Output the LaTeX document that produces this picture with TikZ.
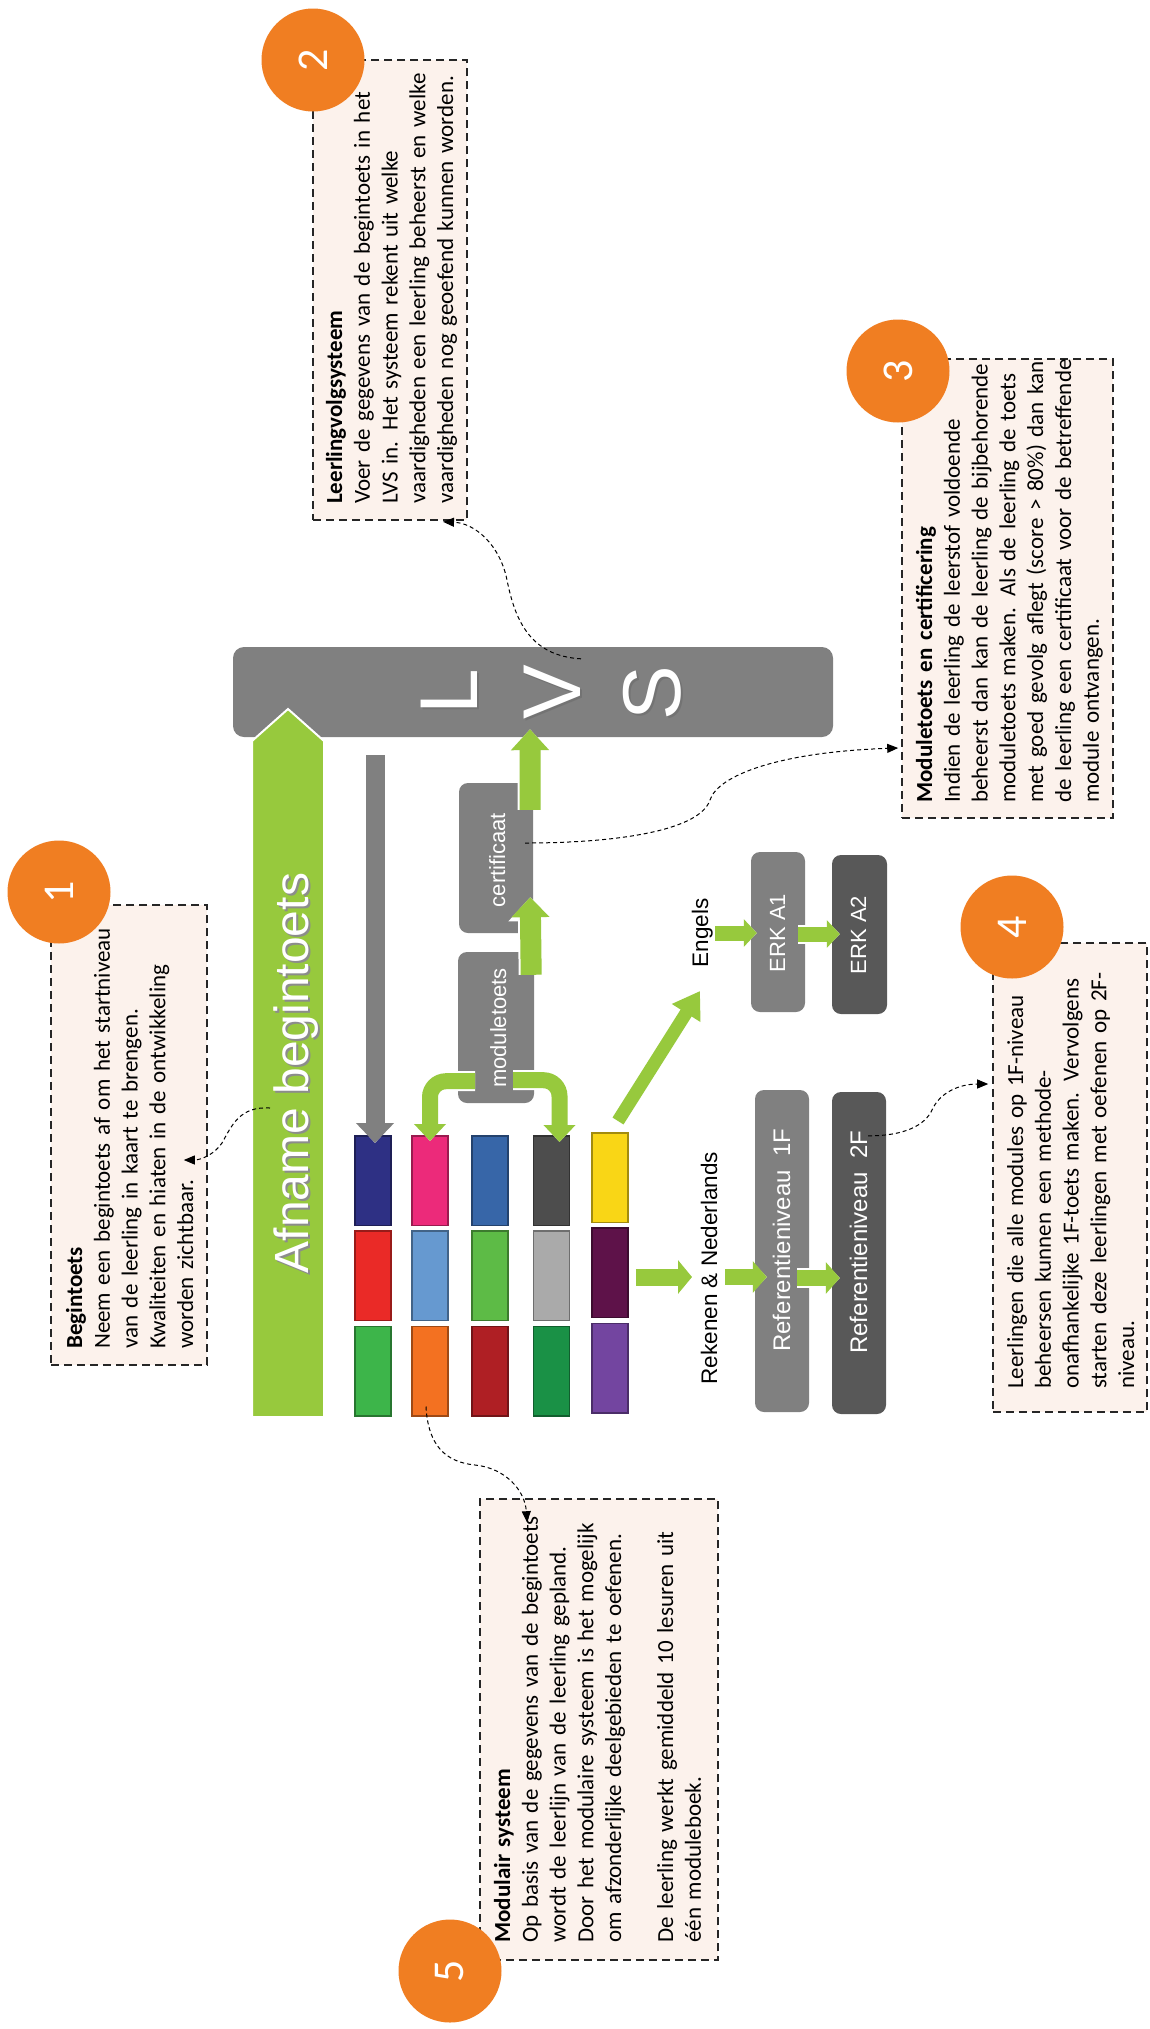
\documentclass[tikz,border=0pt]{standalone}
\usepackage{fontspec}
\setmainfont{Carlito}
\newfontfamily\labfont{Liberation Sans}
\usetikzlibrary{arrows.meta,calc}
\definecolor{gr}{HTML}{97C93D}
\definecolor{org}{HTML}{F07E22}
\definecolor{peach}{HTML}{FCF2EC}
\definecolor{gA}{HTML}{808080}
\definecolor{gB}{HTML}{585858}
\definecolor{k11}{HTML}{2E3084}
\definecolor{k12}{HTML}{EA2A27}
\definecolor{k13}{HTML}{3DB54A}
\definecolor{k21}{HTML}{EC2A7A}
\definecolor{k22}{HTML}{6699D0}
\definecolor{k23}{HTML}{F37121}
\definecolor{k31}{HTML}{3766A8}
\definecolor{k32}{HTML}{5DBB46}
\definecolor{k33}{HTML}{AF1F24}
\definecolor{k41}{HTML}{4D4D4D}
\definecolor{k42}{HTML}{AAAAAA}
\definecolor{k43}{HTML}{1A9146}
\definecolor{k51}{HTML}{F9D616}
\definecolor{k52}{HTML}{5E1249}
\definecolor{k53}{HTML}{7345A0}
\newcommand\GA[5]{%
  \pgfmathsetmacro\gaw{#1+4}\pgfmathsetmacro\gahw{#2+6}\pgfmathsetmacro\gahl{#3+4}%
  \draw[white, line width=\gaw pt, -{Triangle[width=\gahw pt, length=\gahl pt]}] #5;
  \draw[#4, line width=#1pt, -{Triangle[width=#2pt, length=#3pt]}] #5;}
\begin{document}
\begin{tikzpicture}[x=1pt,y=-1pt,
  callout/.style={draw=black!85, fill=peach, line width=1.6pt, dash pattern=on 8pt off 5pt, inner sep=0pt},
  ctext/.style={rotate=90, anchor=base west, text width=470pt, align=left, inner sep=0pt, font=\fontsize{23}{27.8}\selectfont},
  numc/.style={circle, fill=org, minimum size=103pt, inner sep=0pt, text=white, font=\fontsize{44}{44}\selectfont, rotate=90},
  gbox/.style={fill=gA, rounded corners=9pt, inner sep=0pt},
  dbox/.style={fill=gB, rounded corners=9pt, inner sep=0pt},
  wlab/.style={rotate=90, anchor=base, text=white, inner sep=0pt},
  blab/.style={rotate=90, anchor=base, text=black, inner sep=0pt, font=\labfont\fontsize{22.5}{24}\selectfont},
  blk/.style={fill=#1, draw=#1!65!black, line width=1.5pt, minimum width=36pt, minimum height=89.5pt, inner sep=0pt},
  dcon/.style={black, line width=1pt, dash pattern=on 4pt off 3pt, -{Triangle[length=11pt,width=9pt]}}
]
\useasboundingbox (0,0) rectangle (1149,2029);
\fill[white] (0,0) rectangle (1149,2029);

% ---------- callout boxes ----------
\node[callout, minimum width=156pt, minimum height=460pt] (c1) at (129,1135) {};
\node[callout, minimum width=154pt, minimum height=460pt] (c2) at (390,290) {};
\node[callout, minimum width=211pt, minimum height=459pt] (c3) at (1007.5,588.5) {};
\node[callout, minimum width=154pt, minimum height=469pt] (c4) at (1070,1177.5) {};
\node[callout, minimum width=238pt, minimum height=461pt] (c5) at (599,1729.5) {};

\node[ctext] (t1) at (82,1349) {\textbf{Begintoets}\\Neem een begintoets af om het startniveau\\van de leerling in kaart te brengen.\\Kwaliteiten en hiaten in de ontwikkeling\\worden zichtbaar.};
\node[ctext] (t2) at (342,504) {\textbf{Leerlingvolgsysteem}\\Voer de gegevens van de begintoets in het\\LVS in. Het systeem rekent uit welke\\vaardigheden een leerling beheerst en welke\\vaardigheden nog geoefend kunnen worden.};
\node[ctext] (t3) at (932,803) {\textbf{Moduletoets en certificering}\\Indien de leerling de leerstof voldoende\\beheerst dan kan de leerling de bijbehorende\\moduletoets maken. Als de leerling de toets\\met goed gevolg aflegt (score > 80\%) dan kan\\de leerling een certificaat voor de betreffende\\module ontvangen.};
\node[ctext] (t4) at (1023,1389) {Leerlingen die alle modules op 1F-niveau\\beheersen kunnen een methode-\\onafhankelijke 1F-toets maken. Vervolgens\\starten deze leerlingen met oefenen op 2F-\\niveau.};
\node[ctext] (t5) at (510,1943) {\textbf{Modulair systeem}\\Op basis van de gegevens van de begintoets\\wordt de leerlijn van de leerling gepland.\\Door het modulaire systeem is het mogelijk\\om afzonderlijke deelgebieden te oefenen.\\[24pt]De leerling werkt gemiddeld 10 lesuren uit\\één moduleboek.};

\node[numc] (n1) at (59,892) {1};
\node[numc] (n2) at (313,60) {2};
\node[numc] (n3) at (898,371) {3};
\node[numc] (n4) at (1012,927) {4};
\node[numc] (n5) at (450,1971) {5};

% ---------- LVS bar ----------
\node[gbox, rounded corners=11pt, minimum width=600pt, minimum height=90pt] (lvs) at (533,692) {};
\foreach \ch/\xx/\yy/\nm in {L/477/692/lL, V/580/692/lV, S/680/693/lS}{
  \node[wlab, text=black!55, font=\labfont\fontsize{82}{82}\selectfont] (\nm s) at (\xx+2,\yy+2) {\ch};
  \node[wlab, font=\labfont\fontsize{82}{82}\selectfont] (\nm) at (\xx,\yy) {\ch};
}

% ---------- big green arrow ----------
\draw[fill=gr, draw=white, line width=2pt] (252,1417) -- (252,741) -- (288,709) -- (324,741) -- (324,1417) -- cycle;
\node[wlab, text=black!45, font=\labfont\fontsize{48}{48}\selectfont] (afS) at (310,1075) {Afname begintoets};
\node[wlab, font=\labfont\fontsize{48}{48}\selectfont] (afT) at (308,1073) {Afname begintoets};

% ---------- module blocks ----------
\node[blk=k11] (b11) at (373,1180.5) {};
\node[blk=k12] (b12) at (373,1275.5) {};
\node[blk=k13] (b13) at (373,1371) {};
\node[blk=k21] (b21) at (430,1180.5) {};
\node[blk=k22] (b22) at (430,1275.5) {};
\node[blk=k23] (b23) at (430,1371) {};
\node[blk=k31] (b31) at (490,1180.5) {};
\node[blk=k32] (b32) at (490,1275.5) {};
\node[blk=k33] (b33) at (490,1371) {};
\node[blk=k41] (b41) at (551.5,1180.5) {};
\node[blk=k42] (b42) at (551.5,1275.5) {};
\node[blk=k43] (b43) at (551.5,1371) {};
\node[blk=k51] (b51) at (610,1177.5) {};
\node[blk=k52] (b52) at (610,1272.5) {};
\node[blk=k53] (b53) at (610,1368) {};

% ---------- gray boxes ----------
\node[gbox, minimum width=74pt, minimum height=150pt] (cert) at (496,858) {};
\node[wlab, font=\labfont\fontsize{22}{24}\selectfont] (certT) at (505,860) {certificaat};
\node[gbox, minimum width=76pt, minimum height=151pt] (modt) at (496,1027.5) {};
\node[wlab, font=\labfont\fontsize{22}{24}\selectfont] (modtT) at (506,1028) {moduletoets};

\node[gbox, minimum width=54pt, minimum height=160pt] (erk1) at (778,932) {};
\node[wlab, font=\labfont\fontsize{22}{24}\selectfont] (erk1T) at (785,933) {ERK A1};
\node[dbox, minimum width=55pt, minimum height=159pt] (erk2) at (859.5,934.5) {};
\node[wlab, font=\labfont\fontsize{22}{24}\selectfont] (erk2T) at (866,935) {ERK A2};
\node[gbox, minimum width=54pt, minimum height=322pt] (ref1) at (782,1251) {};
\node[wlab, font=\labfont\fontsize{24}{26}\selectfont] (ref1T) at (790,1240) {Referentieniveau\hspace{0.3em} 1F};
\node[dbox, minimum width=54pt, minimum height=322pt] (ref2) at (859,1253) {};
\node[wlab, font=\labfont\fontsize{24}{26}\selectfont] (ref2T) at (867,1242) {Referentieniveau\hspace{0.3em} 2F};

\node[blab] (engT) at (708,933) {Engels};
\node[blab] (rekT) at (717,1268) {Rekenen \& Nederlands};

% ---------- arrows ----------
\GA{19}{37}{20}{gA}{($(lvs.south -| b11.north)+(2,18)$) -- ($(b11.north)+(2,8)$)}
\GA{21}{37}{21}{gr}{($(cert.north east)+(-3,27)$) -- ($(lvs.south)+(-3,-8)$)}
\GA{21}{37}{20}{gr}{($(modt.north east)+(-3,23)$) -- ($(cert.south east)+(-3,-36)$)}
\coordinate (ml) at ($(modt.south)+(-21,-22)$);
\coordinate (mr) at ($(modt.south)+(17,-23)$);
\coordinate (b41t) at ($(b41.north)+(8,7)$);
\GA{16}{31}{17}{gr}{[rounded corners=16pt] (ml) -- (b21.north |- ml) -- ($(b21.north)+(0,6)$)}
\GA{16}{31}{17}{gr}{[rounded corners=16pt] (mr) -- (b41t |- mr) -- (b41t)}
\GA{13}{32}{26}{gr}{($(b51.north)+(8,-11)$) -- ($(engT.base)+(-8,58)$)}
\GA{17}{33}{14}{gr}{($(b52.east)+(7,4.5)$) -- ($(rekT.base)+(-25,9)$)}
\GA{16}{31}{14}{gr}{($(rekT.base)+(8,9)$) -- ($(ref1.west)+(12,26)$)}
\GA{16}{31}{14}{gr}{($(ref1.east)+(-12,27)$) -- ($(ref2.west)+(8,25)$)}
\GA{15}{27}{13}{gr}{($(engT.base)+(7,0)$) -- ($(erk1.west)+(6,1)$)}
\GA{15}{27}{13}{gr}{($(erk1.east)+(-7,2)$) -- ($(erk2.west)+(8,-0.5)$)}

% ---------- dashed connectors ----------
\coordinate (s1) at ($(afT.base)+(-38,35)$);
\coordinate (s2) at ($(lvs.north)+(48,12)$);
\coordinate (s3) at ($(cert.east)+(-8,-15)$);
\coordinate (s4) at ($(ref2.north)+(9,44)$);
\coordinate (s5) at ($(b23.south)+(-4,-10)$);
\draw[dcon] (s1) .. controls (240,1106) and (232,1125) .. (222,1143) .. controls (214,1155) and (200,1160) .. ($(c1.east)+(-24,25)$);
\draw[dcon] (s2) .. controls (530,656) and (515,620) .. (507,580) .. controls (500,545) and (475,523) .. ($(c2.south)+(53,1)$);
\draw[dcon] (s3) .. controls (620,843) and (700,830) .. (710,800) .. controls (718,775) and (780,752) .. ($(c3.west)+(-3,159.5)$);
\draw[dcon] (s4) .. controls (905,1136) and (925,1125) .. (932,1110) .. controls (940,1092) and (960,1084) .. ($(c4.west)+(-4,-93.5)$);
\draw[dcon] (s5) .. controls (428,1445) and (445,1462) .. (475,1465) .. controls (505,1468) and (525,1490) .. ($(c5.north)+(-72,24)$);
\end{tikzpicture}
\end{document}
